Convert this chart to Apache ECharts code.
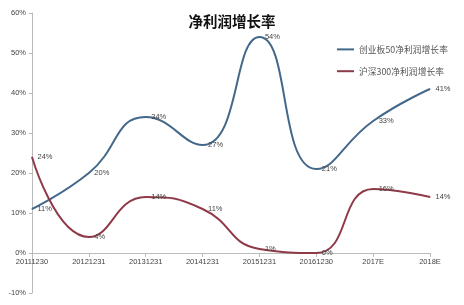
<!DOCTYPE html>
<html><head><meta charset="utf-8">
<script src="https://cdn.jsdelivr.net/npm/echarts@6/dist/echarts.min.js"></script>
<style>html,body{margin:0;padding:0;background:#fff}#c{width:464px;height:305px}</style>
</head><body><div id="c"></div>
<script>
var categories = ['20111230','20121231','20131231','20141231','20151231','20161230','2017E','2018E'];
var cyb50 = [11, 20, 34, 27, 54, 21, 33, 41];
var hs300 = [24, 4, 14, 11, 1, 0, 16, 14];
var seriesNames = ['创业板50净利润增长率','沪深300净利润增长率'];
var chart = echarts.init(document.getElementById('c'));
function lbl(){ return {show:true, position:'right', formatter:'{c}%', fontSize:7.5, color:'#444', distance:5, fontFamily:'Liberation Sans'}; }
chart.setOption({
  animation:false,
  title:{text:'净利润增长率', left:'center', top:9, textStyle:{fontSize:14.5, fontWeight:'bold', color:'#111', fontFamily:'Noto Sans CJK SC'}},
  legend:{orient:'vertical', left:332, top:40, itemGap:13, itemWidth:17, itemHeight:2, icon:'rect',
    textStyle:{fontSize:8.8, color:'#555', fontFamily:'Noto Sans CJK SC'}, data:seriesNames},
  grid:{left:32, right:34, top:13, bottom:12, containLabel:false},
  xAxis:{type:'category', data:categories, boundaryGap:false, offset:-40,
    axisLine:{onZero:false, lineStyle:{color:'#bbb'}}, axisTick:{show:true, alignWithLabel:true, length:4, lineStyle:{color:'#bbb'}},
    axisLabel:{fontSize:7.5, color:'#444', margin:5, interval:0, fontFamily:'Liberation Sans'}},
  yAxis:{type:'value', min:-10, max:60, interval:10, splitLine:{show:false},
    axisLine:{show:true, lineStyle:{color:'#bbb'}}, axisTick:{show:true, length:3, lineStyle:{color:'#bbb'}},
    axisLabel:{formatter:'{value}%', fontSize:7.5, color:'#444', margin:6, fontFamily:'Liberation Sans'}},
  series:[
    {name:seriesNames[0], type:'line', data:cyb50, smooth:0.5, symbol:'circle', symbolSize:1, showSymbol:true, label:lbl(),
     lineStyle:{color:'#44688a', width:2}, itemStyle:{color:'#44688a'}},
    {name:seriesNames[1], type:'line', data:hs300, smooth:0.5, symbol:'circle', symbolSize:1, showSymbol:true, label:lbl(),
     lineStyle:{color:'#8f3a48', width:2}, itemStyle:{color:'#8f3a48'}}
  ]
});
</script></body></html>
